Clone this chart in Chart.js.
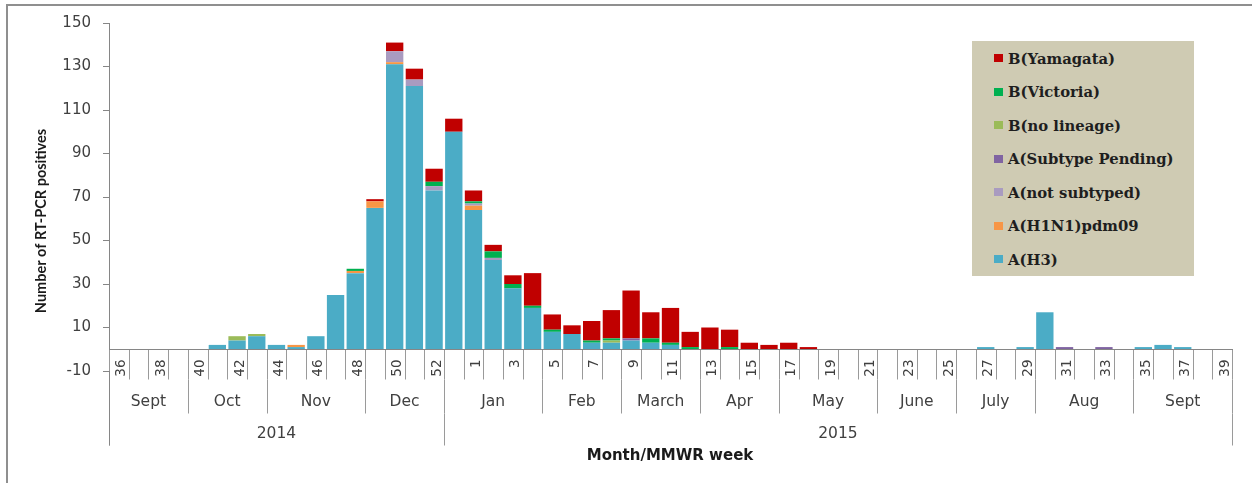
<!DOCTYPE html>
<html>
<head>
<meta charset="utf-8">
<script src="https://cdn.jsdelivr.net/npm/chart.js@4.4.1/dist/chart.umd.min.js"></script>
<style>
html,body{margin:0;padding:0;background:#fff;}
#wrap{position:relative;width:1252px;height:483px;overflow:hidden;}
#frame{position:absolute;left:6px;top:4px;width:1300px;height:600px;border-top:2px solid #8f8f8f;border-left:2px solid #8f8f8f;pointer-events:none;}
canvas{position:absolute;left:0;top:0;}
#legend{position:absolute;left:972px;top:41px;width:222px;height:235px;background:#CFCBB3;}
.item{position:absolute;left:22px;height:20px;display:flex;align-items:center;font:bold 14.8px "DejaVu Serif";color:#1e1e1e;white-space:nowrap;}
.sw{width:9px;height:8px;margin-right:5px;flex:none;}
</style>
</head>
<body>
<div id="wrap">
  <canvas id="c" width="1252" height="483"></canvas>
  <div id="frame"></div>
  <div id="legend"></div>
</div>
<script>
// ---- Data ----
const weeks = ['36','37','38','39','40','41','42','43','44','45','46','47','48','49','50','51','52','53',
  '1','2','3','4','5','6','7','8','9','10','11','12','13','14','15','16','17','18','19','20',
  '21','22','23','24','25','26','27','28','29','30','31','32','33','34','35','36','37','38','39'];

const aH3 = [0,0,0,0,0,2,4,6,2,1, 6,25,35,65,131,121,73,100,64,41, 28,19,8,7,3,3,4,3,2,0,
  0,0,0,0,0,0,0,0,0,0, 0,0,0,0,1,0,1,17,0,0, 0,0,1,2,1,0,0];
const aH1N1 = [0,0,0,0,0,0,0,0,0,1, 0,0,1,3,1,0,0,0,2,0, 0,0,0,0,0,0,0,0,0,0,
  0,0,0,0,0,0,0,0,0,0, 0,0,0,0,0,0,0,0,0,0, 0,0,0,0,0,0,0];
const aNotSub = [0,0,0,0,0,0,0,0,0,0, 0,0,0,0,5,3,2,0,1,1, 0,0,0,0,0,0,0,0,0,0,
  0,0,0,0,0,0,0,0,0,0, 0,0,0,0,0,0,0,0,0,0, 0,0,0,0,0,0,0];
const aPending = [0,0,0,0,0,0,0,0,0,0, 0,0,0,0,0,0,0,0,0,0, 0,0,0,0,0,0,1,0,0,0,
  0,0,0,0,0,0,0,0,0,0, 0,0,0,0,0,0,0,0,1,0, 1,0,0,0,0,0,0];
const bNoLineage = [0,0,0,0,0,0,2,1,0,0, 0,0,0,0,0,0,0,0,0,0, 0,0,0,0,0,1,0,0,0,0,
  0,0,0,0,0,0,0,0,0,0, 0,0,0,0,0,0,0,0,0,0, 0,0,0,0,0,0,0];
const bVictoria = [0,0,0,0,0,0,0,0,0,0, 0,0,1,0,0,0,2,0,1,3, 2,1,1,0,1,1,0,2,1,1,
  0,1,0,0,0,0,0,0,0,0, 0,0,0,0,0,0,0,0,0,0, 0,0,0,0,0,0,0];
const bYamagata = [0,0,0,0,0,0,0,0,0,0, 0,0,0,1,4,5,6,6,5,3, 4,15,7,4,9,13,22,12,16,7,
  10,8,3,2,3,1,0,0,0,0, 0,0,0,0,0,0,0,0,0,0, 0,0,0,0,0,0,0];

const yTicks = [-10,10,30,50,70,90,110,130,150];
const monthNames = ['Sept','Oct','Nov','Dec','Jan','Feb','March','Apr','May','June','July','Aug','Sept'];
const monthStarts = [0,4,8,13,17,22,26,30,34,39,43,47,52];
const yearNames = ['2014','2015'];
const yearStarts = [0,17];

const series = [
  {label:'A(H3)', data:aH3, color:'#4BACC6'},
  {label:'A(H1N1)pdm09', data:aH1N1, color:'#F79646'},
  {label:'A(not subtyped)', data:aNotSub, color:'#A99BC0'},
  {label:'A(Subtype Pending)', data:aPending, color:'#8064A2'},
  {label:'B(no lineage)', data:bNoLineage, color:'#9BBB59'},
  {label:'B(Victoria)', data:bVictoria, color:'#00B050'},
  {label:'B(Yamagata)', data:bYamagata, color:'#C00000'}
];

const TXT = '#404040';
const LINE = '#9a9a9a';
const AXIS = '#868686';

const axisPlugin = {
  id:'multiAxis',
  afterDraw(chart){
    const ctx = chart.ctx;
    const xs = chart.scales.x, ys = chart.scales.y;
    const n = weeks.length;
    const w = (xs.getPixelForValue(1) - xs.getPixelForValue(0));
    const bound = i => xs.getPixelForValue(0) - w/2 + i*w;
    const y0 = Math.round(ys.getPixelForValue(0)) + 0.5;
    const yW = y0 + 30, yM = y0 + 64, yY = y0 + 96;
    ctx.save();
    ctx.lineWidth = 1;
    ctx.strokeStyle = LINE;
    ctx.beginPath();
    for (let i = 0; i <= n; i++) {
      const x = Math.round(bound(i)) + 0.5;
      ctx.moveTo(x, y0); ctx.lineTo(x, yW);
    }
    const mb = monthStarts.concat([n]);
    for (const s of mb) {
      const x = Math.round(bound(s)) + 0.5;
      ctx.moveTo(x, yW); ctx.lineTo(x, yM);
    }
    const yb = yearStarts.concat([n]);
    for (const s of yb) {
      const x = Math.round(bound(s)) + 0.5;
      ctx.moveTo(x, yM); ctx.lineTo(x, yY);
    }
    ctx.stroke();
    ctx.strokeStyle = AXIS;
    ctx.beginPath();
    ctx.moveTo(Math.round(bound(0)), y0); ctx.lineTo(Math.round(bound(n)) + 1, y0);
    const xl = Math.round(bound(0)) + 0.5;
    ctx.moveTo(xl, ys.bottom); ctx.lineTo(xl, yY);
    ctx.stroke();

    // week labels (rotated, end aligned near the axis)
    ctx.fillStyle = TXT;
    ctx.font = '13.5px "DejaVu Sans"';
    ctx.textAlign = 'right';
    ctx.textBaseline = 'middle';
    for (let i = 0; i < n; i += 2) {
      const cx = xs.getPixelForValue(i) + 3;
      ctx.save();
      ctx.translate(cx, y0 + 10);
      ctx.rotate(-Math.PI/2);
      ctx.fillText(weeks[i], 0, 0);
      ctx.restore();
    }
    ctx.font = '15.5px "DejaVu Sans"';
    ctx.textAlign = 'center';
    for (let k = 0; k < monthNames.length; k++) {
      const a = bound(mb[k]), b = bound(mb[k+1]);
      ctx.fillText(monthNames[k], (a+b)/2, y0 + 52);
    }
    for (let k = 0; k < yearNames.length; k++) {
      const a = bound(yb[k]), b = bound(yb[k+1]);
      ctx.fillText(yearNames[k], (a+b)/2, y0 + 84);
    }
    ctx.fillStyle = '#1a1a1a';
    ctx.font = 'bold 15px "DejaVu Sans"';
    ctx.fillText('Month/MMWR week', 670, 456);
    ctx.save();
    ctx.translate(41, 221);
    ctx.rotate(-Math.PI/2);
    ctx.font = 'bold 14.5px Lato';
    ctx.fillText('Number of RT-PCR positives', 0, 0);
    ctx.restore();
    ctx.restore();
  }
};

const chart = new Chart(document.getElementById('c'), {
  type:'bar',
  data:{
    labels: weeks,
    datasets: series.map(s => ({
      label: s.label, data: s.data, backgroundColor: s.color,
      borderWidth: 0, barPercentage: 0.88, categoryPercentage: 1.0
    }))
  },
  options:{
    responsive:false, animation:false, devicePixelRatio:1,
    layout:{padding:{left:0, top:23, right:20, bottom:112}},
    plugins:{legend:{display:false}, tooltip:{enabled:false}},
    scales:{
      x:{display:false, stacked:true, offset:true},
      y:{
        stacked:true, min:-10, max:150,
        afterBuildTicks: s => { s.ticks = yTicks.map(v => ({value:v})); },
        afterFit: s => { s.width = 109; },
        grid:{display:true, drawOnChartArea:false, drawTicks:true, tickLength:6, color:AXIS},
        border:{display:true, color:AXIS, width:1},
        ticks:{padding:12, color:TXT, font:{family:'DejaVu Sans', size:15}}
      }
    }
  },
  plugins:[axisPlugin]
});

const leg = document.getElementById('legend');
chart.data.datasets.slice().reverse().forEach((d, i) => {
  const it = document.createElement('div');
  it.className = 'item';
  it.style.top = (7.3 + i*33.5) + 'px';
  const sw = document.createElement('span');
  sw.className = 'sw'; sw.style.background = d.backgroundColor;
  const tx = document.createElement('span');
  tx.textContent = d.label;
  it.appendChild(sw); it.appendChild(tx);
  leg.appendChild(it);
});
</script>
</body>
</html>
